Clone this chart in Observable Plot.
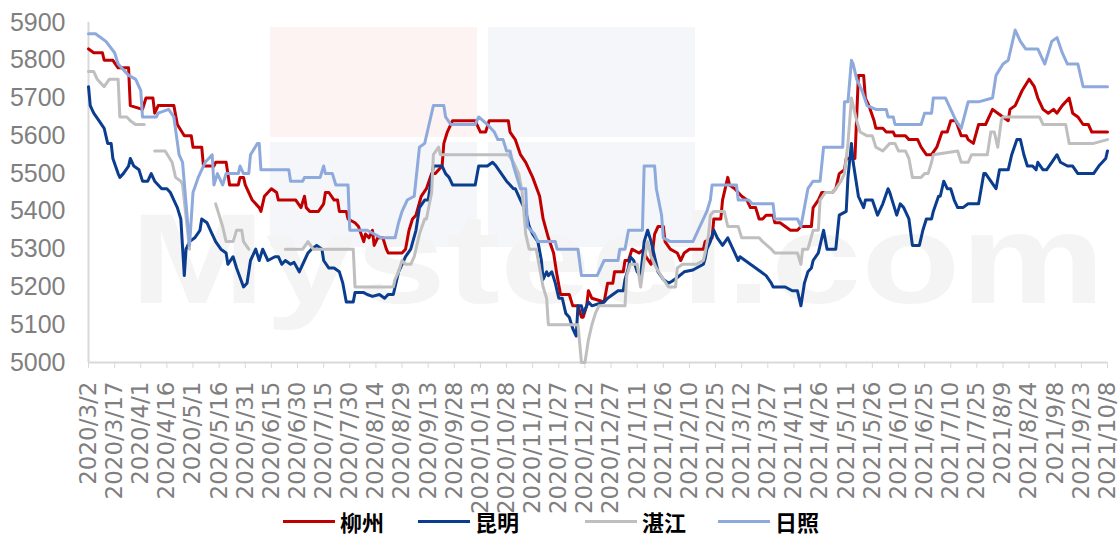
<!DOCTYPE html>
<html><head><meta charset="utf-8">
<script src="https://cdn.jsdelivr.net/npm/d3@7"></script>
<script src="https://cdn.jsdelivr.net/npm/@observablehq/plot@0.6"></script>
<style>
body{margin:0;background:#fff;}
#wrap{position:relative;width:1118px;height:505px;}
#wm{position:absolute;left:0;top:0;z-index:0;}
#chart{position:absolute;left:0;top:0;z-index:1;}
#legend{display:flex;align-items:center;height:32px;padding-left:283px;font-family:"Noto Sans CJK SC";font-weight:700;font-size:22px;color:#000;}
.item{display:flex;align-items:center;}
.sw{width:52px;height:3px;margin-right:5px;}
g[aria-label="x-axis tick label"] text{font-family:"DejaVu Sans";}
</style></head><body>
<div id="wrap">
<svg id="wm" width="1118" height="505">
  <rect x="270" y="27" width="207" height="110" fill="#FDF3F3"/>
  <rect x="488" y="27" width="207" height="110" fill="#F4F6FA"/>
  <rect x="270" y="142" width="207" height="105" fill="#F4F6FA"/>
  <rect x="488" y="142" width="207" height="105" fill="#F4F6FA"/>
  <text x="130" y="303" font-family="Liberation Sans" font-weight="700" font-size="128" fill="#F4F4F4" textLength="975" lengthAdjust="spacingAndGlyphs">Mysteel.com</text>
</svg>
<div id="chart"></div>
</div>
<div id="legend"></div>
<script>
const xTickLabels = ["2020/3/2","2020/3/17","2020/4/1","2020/4/16","2020/5/1","2020/5/16","2020/5/31","2020/6/15","2020/6/30","2020/7/15","2020/7/30","2020/8/14","2020/8/29","2020/9/13","2020/9/28","2020/10/13","2020/10/28","2020/11/12","2020/11/27","2020/12/12","2020/12/27","2021/1/11","2021/1/26","2021/2/10","2021/2/25","2021/3/12","2021/3/27","2021/4/11","2021/4/26","2021/5/11","2021/5/26","2021/6/10","2021/6/25","2021/7/10","2021/7/25","2021/8/9","2021/8/24","2021/9/8","2021/9/23","2021/10/8"];
const yTicks = [5000,5100,5200,5300,5400,5500,5600,5700,5800,5900];
const cities = ["柳州","昆明","湛江","日照"];

const liuzhou = [["2020/3/2",5830],["2020/3/5",5820],["2020/3/10",5820],["2020/3/11",5800],["2020/3/16",5800],["2020/3/19",5780],["2020/3/25",5780],["2020/3/26",5680],["2020/4/2",5670],["2020/4/4",5700],["2020/4/8",5700],["2020/4/9",5660],["2020/4/11",5680],["2020/4/20",5680],["2020/4/22",5630],["2020/4/26",5600],["2020/4/30",5600],["2020/5/1",5570],["2020/5/6",5570],["2020/5/7",5520],["2020/5/13",5520],["2020/5/14",5530],["2020/5/20",5530],["2020/5/21",5500],["2020/5/22",5470],["2020/5/27",5470],["2020/5/28",5490],["2020/5/30",5490],["2020/5/31",5470],["2020/6/4",5430],["2020/6/8",5410],["2020/6/9",5400],["2020/6/11",5440],["2020/6/15",5460],["2020/6/18",5450],["2020/6/19",5430],["2020/6/29",5430],["2020/7/2",5410],["2020/7/4",5440],["2020/7/5",5410],["2020/7/7",5400],["2020/7/12",5400],["2020/7/15",5420],["2020/7/16",5450],["2020/7/18",5450],["2020/7/21",5430],["2020/7/23",5430],["2020/7/24",5400],["2020/7/28",5400],["2020/7/29",5380],["2020/8/2",5370],["2020/8/4",5360],["2020/8/7",5320],["2020/8/8",5340],["2020/8/10",5330],["2020/8/12",5350],["2020/8/13",5310],["2020/8/15",5330],["2020/8/18",5330],["2020/8/20",5300],["2020/8/21",5290],["2020/8/29",5290],["2020/8/31",5300],["2020/9/2",5350],["2020/9/4",5380],["2020/9/6",5390],["2020/9/9",5440],["2020/9/12",5460],["2020/9/15",5500],["2020/9/17",5500],["2020/9/21",5520],["2020/9/22",5580],["2020/9/24",5610],["2020/9/27",5640],["2020/10/10",5640],["2020/10/12",5620],["2020/10/13",5610],["2020/10/16",5610],["2020/10/18",5640],["2020/10/29",5640],["2020/10/30",5610],["2020/11/2",5590],["2020/11/5",5550],["2020/11/8",5530],["2020/11/12",5490],["2020/11/16",5440],["2020/11/18",5380],["2020/11/21",5330],["2020/11/24",5290],["2020/11/26",5230],["2020/11/28",5180],["2020/12/3",5180],["2020/12/5",5150],["2020/12/8",5150],["2020/12/10",5120],["2020/12/11",5120],["2020/12/13",5150],["2020/12/14",5190],["2020/12/16",5170],["2020/12/23",5160],["2020/12/25",5210],["2020/12/28",5210],["2020/12/29",5240],["2021/1/3",5240],["2021/1/4",5270],["2021/1/6",5270],["2021/1/8",5300],["2021/1/12",5290],["2021/1/15",5300],["2021/1/16",5280],["2021/1/19",5260],["2021/1/21",5340],["2021/1/23",5360],["2021/1/26",5360],["2021/1/27",5320],["2021/1/30",5300],["2021/2/3",5290],["2021/2/5",5270],["2021/2/7",5290],["2021/2/10",5300],["2021/2/18",5300],["2021/2/19",5320],["2021/2/23",5330],["2021/2/24",5380],["2021/2/28",5380],["2021/3/1",5430],["2021/3/4",5490],["2021/3/5",5470],["2021/3/8",5460],["2021/3/10",5450],["2021/3/12",5440],["2021/3/15",5430],["2021/3/17",5410],["2021/3/20",5410],["2021/3/22",5380],["2021/3/24",5380],["2021/3/26",5390],["2021/3/30",5390],["2021/3/31",5370],["2021/4/3",5370],["2021/4/6",5360],["2021/4/9",5350],["2021/4/13",5350],["2021/4/15",5360],["2021/4/21",5360],["2021/4/22",5410],["2021/4/25",5430],["2021/4/27",5450],["2021/5/3",5450],["2021/5/5",5460],["2021/5/7",5500],["2021/5/10",5510],["2021/5/11",5540],["2021/5/16",5540],["2021/5/18",5760],["2021/5/21",5760],["2021/5/22",5700],["2021/5/24",5680],["2021/5/27",5640],["2021/5/28",5620],["2021/6/1",5620],["2021/6/3",5610],["2021/6/7",5610],["2021/6/8",5600],["2021/6/14",5600],["2021/6/16",5590],["2021/6/21",5590],["2021/6/23",5570],["2021/6/26",5550],["2021/6/29",5550],["2021/7/2",5570],["2021/7/5",5610],["2021/7/8",5610],["2021/7/10",5640],["2021/7/13",5640],["2021/7/16",5600],["2021/7/19",5600],["2021/7/20",5590],["2021/7/23",5580],["2021/7/26",5630],["2021/7/30",5630],["2021/8/3",5670],["2021/8/6",5660],["2021/8/9",5650],["2021/8/12",5640],["2021/8/13",5670],["2021/8/16",5680],["2021/8/20",5720],["2021/8/24",5750],["2021/8/27",5730],["2021/8/29",5700],["2021/9/1",5670],["2021/9/4",5660],["2021/9/7",5670],["2021/9/9",5660],["2021/9/12",5680],["2021/9/16",5700],["2021/9/18",5660],["2021/9/21",5650],["2021/9/24",5630],["2021/9/27",5630],["2021/9/29",5610],["2021/10/8",5610]];

const kunming = [["2020/3/2",5730],["2020/3/3",5680],["2020/3/5",5660],["2020/3/8",5640],["2020/3/11",5620],["2020/3/13",5580],["2020/3/15",5580],["2020/3/16",5540],["2020/3/19",5500],["2020/3/20",5490],["2020/3/22",5500],["2020/3/25",5520],["2020/3/26",5540],["2020/3/28",5520],["2020/3/31",5510],["2020/4/2",5480],["2020/4/5",5480],["2020/4/7",5500],["2020/4/9",5480],["2020/4/13",5460],["2020/4/16",5460],["2020/4/18",5450],["2020/4/20",5430],["2020/4/22",5410],["2020/4/24",5380],["2020/4/26",5230],["2020/4/27",5300],["2020/4/29",5320],["2020/5/2",5330],["2020/5/5",5350],["2020/5/6",5380],["2020/5/9",5370],["2020/5/11",5350],["2020/5/14",5320],["2020/5/17",5300],["2020/5/20",5290],["2020/5/21",5260],["2020/5/24",5280],["2020/5/26",5250],["2020/5/30",5200],["2020/6/1",5210],["2020/6/3",5270],["2020/6/6",5300],["2020/6/8",5270],["2020/6/10",5300],["2020/6/13",5270],["2020/6/17",5280],["2020/6/19",5280],["2020/6/21",5260],["2020/6/23",5270],["2020/6/26",5260],["2020/6/28",5265],["2020/7/1",5240],["2020/7/4",5270],["2020/7/6",5290],["2020/7/8",5300],["2020/7/11",5310],["2020/7/14",5300],["2020/7/15",5270],["2020/7/18",5250],["2020/7/21",5250],["2020/7/24",5240],["2020/7/26",5210],["2020/7/28",5160],["2020/8/1",5160],["2020/8/2",5185],["2020/8/7",5185],["2020/8/9",5180],["2020/8/12",5175],["2020/8/16",5180],["2020/8/19",5170],["2020/8/21",5180],["2020/8/24",5180],["2020/8/25",5200],["2020/8/27",5240],["2020/8/29",5260],["2020/8/31",5280],["2020/9/3",5300],["2020/9/6",5350],["2020/9/8",5410],["2020/9/11",5430],["2020/9/13",5430],["2020/9/16",5520],["2020/9/21",5520],["2020/9/23",5500],["2020/9/25",5490],["2020/9/27",5470],["2020/9/30",5470],["2020/10/10",5470],["2020/10/12",5520],["2020/10/17",5520],["2020/10/20",5530],["2020/10/22",5520],["2020/10/25",5500],["2020/10/28",5480],["2020/11/1",5460],["2020/11/2",5460],["2020/11/5",5430],["2020/11/8",5400],["2020/11/10",5360],["2020/11/12",5340],["2020/11/15",5320],["2020/11/17",5270],["2020/11/18",5220],["2020/11/20",5240],["2020/11/21",5230],["2020/11/23",5240],["2020/11/25",5210],["2020/11/27",5170],["2020/11/29",5170],["2020/12/1",5130],["2020/12/3",5120],["2020/12/5",5090],["2020/12/7",5070],["2020/12/8",5150],["2020/12/10",5150],["2020/12/11",5130],["2020/12/14",5160],["2020/12/16",5150],["2020/12/23",5160],["2020/12/25",5170],["2020/12/28",5180],["2020/12/31",5190],["2021/1/3",5190],["2021/1/4",5220],["2021/1/6",5250],["2021/1/7",5280],["2021/1/9",5270],["2021/1/11",5240],["2021/1/13",5230],["2021/1/15",5320],["2021/1/17",5350],["2021/1/19",5320],["2021/1/21",5280],["2021/1/23",5240],["2021/1/26",5220],["2021/1/29",5210],["2021/1/31",5215],["2021/2/3",5225],["2021/2/7",5240],["2021/2/12",5245],["2021/2/18",5260],["2021/2/19",5275],["2021/2/20",5300],["2021/2/22",5320],["2021/2/24",5350],["2021/2/26",5330],["2021/3/1",5310],["2021/3/4",5330],["2021/3/7",5300],["2021/3/10",5270],["2021/3/11",5280],["2021/3/14",5270],["2021/3/17",5260],["2021/3/20",5250],["2021/3/23",5240],["2021/3/26",5230],["2021/3/29",5210],["2021/3/30",5200],["2021/4/6",5200],["2021/4/10",5190],["2021/4/13",5190],["2021/4/15",5150],["2021/4/17",5210],["2021/4/19",5240],["2021/4/21",5250],["2021/4/22",5270],["2021/4/25",5290],["2021/4/28",5350],["2021/4/30",5300],["2021/5/5",5300],["2021/5/7",5390],["2021/5/11",5400],["2021/5/12",5490],["2021/5/14",5580],["2021/5/15",5530],["2021/5/18",5440],["2021/5/21",5410],["2021/5/22",5430],["2021/5/26",5430],["2021/5/29",5390],["2021/6/1",5420],["2021/6/4",5460],["2021/6/5",5450],["2021/6/7",5420],["2021/6/9",5390],["2021/6/11",5420],["2021/6/13",5410],["2021/6/16",5380],["2021/6/18",5310],["2021/6/22",5310],["2021/6/24",5350],["2021/6/26",5380],["2021/6/29",5380],["2021/6/30",5400],["2021/7/3",5440],["2021/7/4",5440],["2021/7/6",5480],["2021/7/8",5460],["2021/7/10",5460],["2021/7/12",5430],["2021/7/14",5410],["2021/7/17",5410],["2021/7/20",5420],["2021/7/26",5420],["2021/7/29",5500],["2021/7/30",5500],["2021/8/2",5480],["2021/8/5",5460],["2021/8/7",5510],["2021/8/12",5510],["2021/8/14",5550],["2021/8/17",5590],["2021/8/19",5590],["2021/8/21",5550],["2021/8/23",5520],["2021/8/26",5520],["2021/8/28",5510],["2021/8/29",5530],["2021/9/1",5510],["2021/9/3",5510],["2021/9/6",5530],["2021/9/9",5550],["2021/9/11",5530],["2021/9/15",5520],["2021/9/18",5520],["2021/9/21",5500],["2021/9/30",5500],["2021/10/3",5520],["2021/10/7",5540],["2021/10/8",5560]];

const zhanjiang = [["2020/3/2",5770],["2020/3/5",5770],["2020/3/7",5750],["2020/3/11",5730],["2020/3/14",5750],["2020/3/19",5750],["2020/3/20",5650],["2020/3/24",5650],["2020/3/26",5640],["2020/3/29",5630],["2020/4/3",5630],["2020/4/4",null],["2020/4/9",5560],["2020/4/15",5560],["2020/4/19",5530],["2020/4/21",5490],["2020/4/24",5480],["2020/4/25",5470],["2020/4/29",5300],["2020/4/30",null],["2020/5/14",5420],["2020/5/16",5390],["2020/5/18",5360],["2020/5/20",5320],["2020/5/24",5320],["2020/5/26",5350],["2020/5/29",5350],["2020/5/30",5320],["2020/6/2",5300],["2020/6/3",null],["2020/6/23",5300],["2020/7/3",5300],["2020/7/6",5320],["2020/7/9",5300],["2020/8/1",5300],["2020/8/2",5200],["2020/8/24",5200],["2020/8/25",5220],["2020/8/27",5240],["2020/8/29",5270],["2020/8/31",5260],["2020/9/3",5260],["2020/9/5",5280],["2020/9/8",5340],["2020/9/11",5380],["2020/9/12",5380],["2020/9/15",5450],["2020/9/16",5550],["2020/9/19",5570],["2020/9/20",5550],["2020/10/29",5550],["2020/11/1",5530],["2020/11/4",5500],["2020/11/6",5450],["2020/11/8",5340],["2020/11/10",5300],["2020/11/14",5300],["2020/11/16",5250],["2020/11/18",5200],["2020/11/20",5170],["2020/11/21",5100],["2020/12/8",5100],["2020/12/10",5000],["2020/12/12",5000],["2020/12/14",5060],["2020/12/16",5100],["2020/12/18",5130],["2020/12/20",5150],["2021/1/4",5150],["2021/1/5",5230],["2021/1/7",5260],["2021/1/11",5260],["2021/1/13",5200],["2021/1/15",5270],["2021/1/17",5320],["2021/1/19",5280],["2021/1/22",5250],["2021/1/26",5220],["2021/1/29",5200],["2021/2/2",5200],["2021/2/3",5250],["2021/2/6",5260],["2021/2/14",5260],["2021/2/18",5270],["2021/2/19",5290],["2021/2/21",5340],["2021/2/22",5390],["2021/2/24",5400],["2021/3/2",5400],["2021/3/4",5360],["2021/3/10",5360],["2021/3/12",5330],["2021/3/22",5330],["2021/3/24",5320],["2021/3/29",5300],["2021/3/31",5290],["2021/4/13",5290],["2021/4/15",5260],["2021/4/16",5300],["2021/4/19",5300],["2021/4/22",5350],["2021/4/25",5350],["2021/4/26",5430],["2021/4/29",5450],["2021/5/3",5450],["2021/5/5",5460],["2021/5/8",5480],["2021/5/10",5500],["2021/5/12",5580],["2021/5/14",5700],["2021/5/15",5680],["2021/5/17",5640],["2021/5/19",5610],["2021/5/23",5600],["2021/5/26",5600],["2021/5/28",5570],["2021/6/1",5560],["2021/6/5",5580],["2021/6/8",5580],["2021/6/10",5560],["2021/6/14",5560],["2021/6/16",5540],["2021/6/18",5490],["2021/6/23",5490],["2021/6/25",5500],["2021/6/27",5500],["2021/6/29",5530],["2021/6/30",5550],["2021/7/14",5560],["2021/7/16",5530],["2021/7/20",5530],["2021/7/22",5550],["2021/7/31",5550],["2021/8/2",5610],["2021/8/4",5610],["2021/8/6",5570],["2021/8/8",5640],["2021/8/9",5650],["2021/8/30",5650],["2021/9/1",5630],["2021/9/14",5630],["2021/9/16",5580],["2021/9/30",5580],["2021/10/8",5590]];

const rizhao = [["2020/3/2",5870],["2020/3/6",5870],["2020/3/12",5850],["2020/3/17",5820],["2020/3/19",5790],["2020/3/25",5760],["2020/3/29",5750],["2020/4/1",5720],["2020/4/2",5650],["2020/4/10",5650],["2020/4/11",5660],["2020/4/17",5670],["2020/4/20",5650],["2020/4/23",5550],["2020/4/25",5530],["2020/4/27",5420],["2020/4/29",5310],["2020/5/1",5450],["2020/5/4",5490],["2020/5/8",5530],["2020/5/12",5550],["2020/5/13",5470],["2020/5/15",5500],["2020/5/18",5470],["2020/5/20",5500],["2020/5/27",5500],["2020/5/28",5520],["2020/5/30",5500],["2020/6/2",5500],["2020/6/3",5550],["2020/6/7",5580],["2020/6/8",5580],["2020/6/9",5510],["2020/6/25",5510],["2020/6/26",5480],["2020/7/3",5480],["2020/7/4",5490],["2020/7/13",5490],["2020/7/15",5520],["2020/7/16",5500],["2020/7/20",5500],["2020/7/22",5470],["2020/7/29",5470],["2020/7/30",5350],["2020/8/9",5350],["2020/8/13",5340],["2020/8/17",5330],["2020/8/25",5330],["2020/8/27",5370],["2020/8/29",5400],["2020/9/1",5430],["2020/9/5",5440],["2020/9/8",5570],["2020/9/11",5580],["2020/9/13",5620],["2020/9/16",5680],["2020/9/22",5680],["2020/9/23",5650],["2020/9/26",5630],["2020/10/10",5630],["2020/10/12",5650],["2020/10/17",5630],["2020/10/21",5610],["2020/10/23",5590],["2020/10/26",5590],["2020/10/28",5560],["2020/10/30",5560],["2020/11/1",5520],["2020/11/5",5460],["2020/11/8",5460],["2020/11/9",5360],["2020/11/13",5340],["2020/11/15",5320],["2020/11/25",5320],["2020/11/26",5300],["2020/12/8",5300],["2020/12/10",5230],["2020/12/19",5230],["2020/12/23",5270],["2020/12/31",5270],["2021/1/1",5300],["2021/1/4",5300],["2021/1/6",5350],["2021/1/14",5350],["2021/1/15",5520],["2021/1/21",5520],["2021/1/22",5460],["2021/1/25",5390],["2021/1/26",5330],["2021/1/30",5320],["2021/2/12",5320],["2021/2/18",5380],["2021/2/20",5400],["2021/2/22",5430],["2021/2/23",5470],["2021/3/9",5470],["2021/3/10",5430],["2021/3/16",5430],["2021/3/18",5420],["2021/3/30",5420],["2021/3/31",5380],["2021/4/13",5380],["2021/4/15",5360],["2021/4/17",5410],["2021/4/19",5460],["2021/4/22",5480],["2021/4/26",5480],["2021/4/28",5570],["2021/5/9",5570],["2021/5/10",5690],["2021/5/12",5690],["2021/5/14",5800],["2021/5/15",5790],["2021/5/17",5750],["2021/5/20",5720],["2021/5/23",5680],["2021/5/28",5670],["2021/6/3",5670],["2021/6/4",5650],["2021/6/7",5650],["2021/6/8",5630],["2021/6/23",5630],["2021/6/25",5660],["2021/6/29",5660],["2021/6/30",5700],["2021/7/7",5700],["2021/7/9",5680],["2021/7/13",5640],["2021/7/16",5620],["2021/7/20",5690],["2021/7/26",5690],["2021/8/3",5700],["2021/8/5",5760],["2021/8/9",5790],["2021/8/12",5800],["2021/8/16",5880],["2021/8/19",5850],["2021/8/22",5830],["2021/8/29",5830],["2021/9/2",5790],["2021/9/6",5850],["2021/9/9",5860],["2021/9/12",5820],["2021/9/15",5790],["2021/9/21",5790],["2021/9/24",5730],["2021/10/8",5730]];

const colors = ["#C00000","#0B3D8F","#BFBFBF","#8EA9DB"];
const seriesValues = [liuzhou, kunming, zhanjiang, rizhao];

const parse = d3.utcParse("%Y/%m/%d");
const fmt = d3.utcFormat("%Y/%-m/%-d");
const ticks = xTickLabels.map(parse);
const rows = seriesValues.map((arr, i) => arr.map(([d, v]) => ({date: parse(d), value: v, city: cities[i]})));

const chart = Plot.plot({
  width: 1118, height: 505,
  marginLeft: 88, marginRight: 11, marginTop: 22, marginBottom: 143,
  style: {fontFamily: "Liberation Sans", background: "transparent", overflow: "visible"},
  x: {type: "utc", domain: [ticks[0], ticks[ticks.length - 1]]},
  y: {domain: [yTicks[0], yTicks[yTicks.length - 1]]},
  marks: [
    Plot.ruleX([ticks[0]], {stroke: "#d9d9d9", strokeWidth: 2}),
    Plot.ruleY([yTicks[0]], {stroke: "#d9d9d9", strokeWidth: 2}),
    Plot.axisY({ticks: yTicks, tickFormat: d => String(d), tickSize: 0, tickPadding: 23, fontSize: 25, fill: "#7f7f7f", label: null}),
    Plot.axisX({ticks: ticks, tickFormat: fmt, tickRotate: -90, tickSize: 6, tickPadding: 13, stroke: "#d9d9d9", fill: "#7f7f7f", fontSize: 23, label: null}),
    ...rows.map((r, i) => Plot.line(r, {x: "date", y: "value", stroke: colors[i], strokeWidth: 3, strokeLinejoin: "round", strokeLinecap: "round"}))
  ]
});
document.getElementById("chart").appendChild(chart);

const legend = document.getElementById("legend");
const gaps = [0, 34, 66, 32];
cities.forEach((c, i) => {
  const it = document.createElement("div");
  it.className = "item";
  it.style.marginLeft = gaps[i] + "px";
  it.innerHTML = `<span class="sw" style="background:${colors[i]}"></span><span>${c}</span>`;
  legend.appendChild(it);
});
</script></body></html>
